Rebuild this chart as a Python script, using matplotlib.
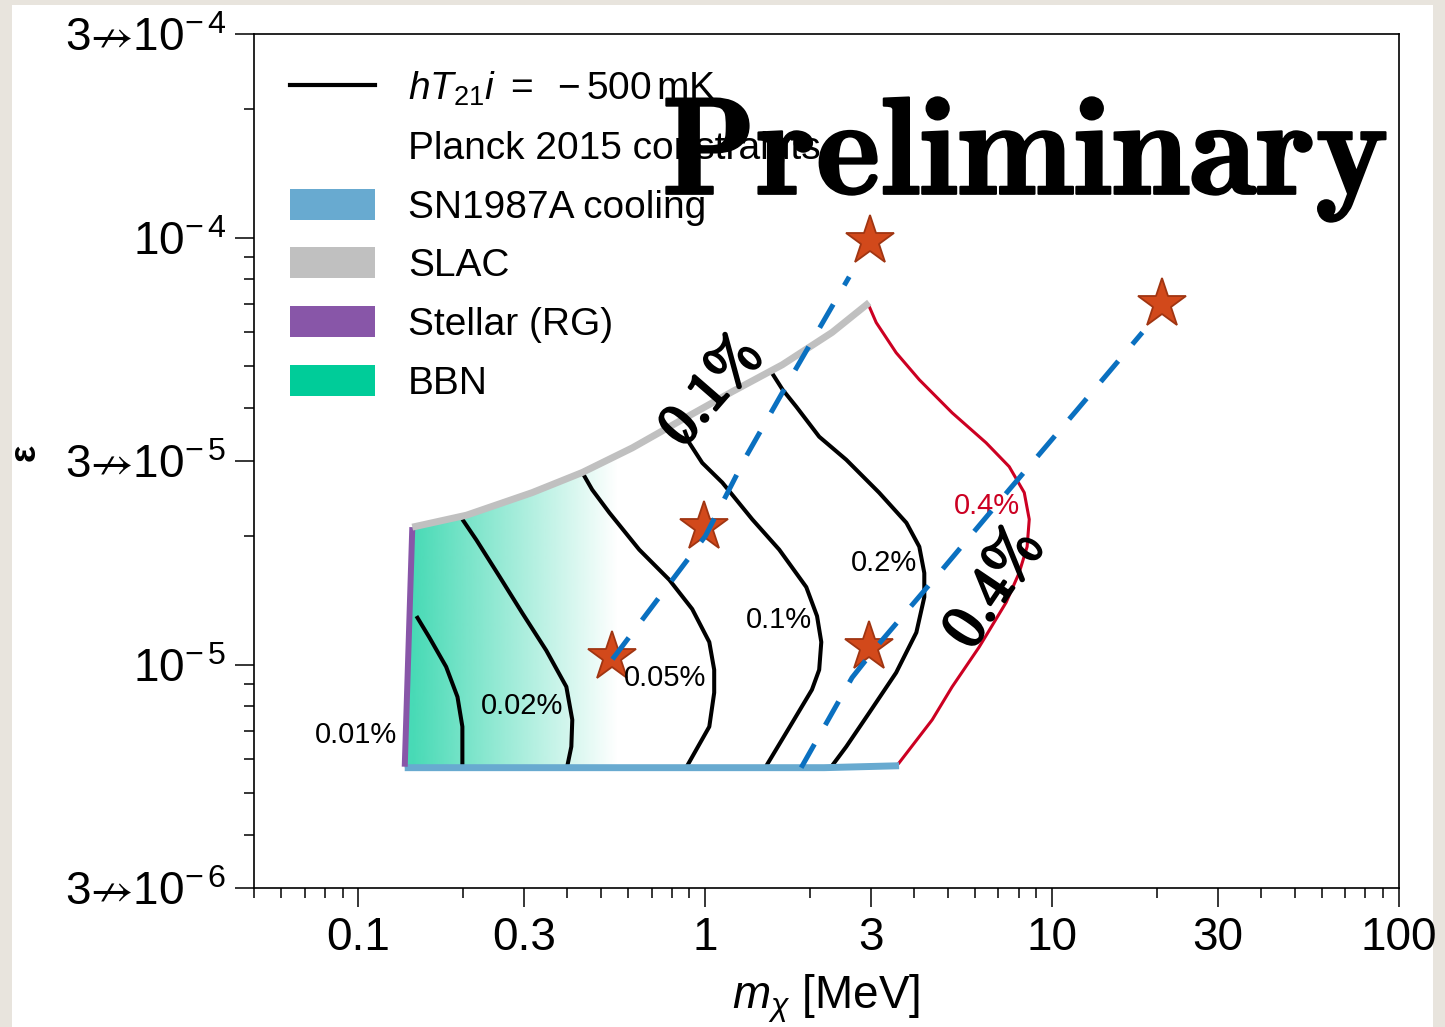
import numpy as np
import matplotlib
matplotlib.use("Agg")
import matplotlib.pyplot as plt
import matplotlib.patheffects as pe
from matplotlib.patches import Rectangle, Patch, Polygon
from matplotlib.lines import Line2D
from matplotlib.ticker import FixedLocator, FixedFormatter, NullFormatter

plt.rcParams['font.family'] = ['Liberation Sans', 'DejaVu Sans']
plt.rcParams['mathtext.fontset'] = 'custom'
plt.rcParams['mathtext.rm'] = 'Liberation Sans'
plt.rcParams['mathtext.it'] = 'Liberation Sans:italic'
plt.rcParams['mathtext.bf'] = 'Liberation Sans:bold'
plt.rcParams['mathtext.fallback'] = 'stixsans'

# ---------------- data (m_chi in MeV, epsilon) ----------------
x_limits = [0.05, 100]
y_limits = [3e-6, 3e-4]

x_major = [0.1, 0.3, 1, 3, 10, 30, 100]
x_major_labels = ['0.1', '0.3', '1', '3', '10', '30', '100']
y_major = [3e-6, 1e-5, 3e-5, 1e-4, 3e-4]
y_major_labels = ['3$\u219b$10$^{-\\,6}$', '10$^{-\\,5}$', '3$\u219b$10$^{-\\,5}$',
                  '10$^{-\\,4}$', '3$\u219b$10$^{-\\,4}$']

# SLAC boundary (top)
slac_x = [0.143, 0.205, 0.317, 0.442, 0.616, 0.858, 1.196, 1.667, 2.32, 2.97]
slac_y = [2.10e-5, 2.24e-5, 2.53e-5, 2.82e-5, 3.22e-5, 3.75e-5, 4.36e-5, 5.04e-5, 6.0e-5, 7.05e-5]

# Stellar (RG) boundary (left)
rg_x = [0.136, 0.143]
rg_y = [5.77e-6, 2.10e-5]

# SN1987A cooling boundary (bottom)
sn_x = [0.136, 2.2, 3.62]
sn_y = [5.74e-6, 5.74e-6, 5.80e-6]

# <T21> = -500 mK contours, labelled by fraction
c001_x = [0.147, 0.160, 0.179, 0.193, 0.1994, 0.1994]
c001_y = [1.30e-5, 1.16e-5, 9.89e-6, 8.41e-6, 7.16e-6, 5.80e-6]

c002_x = [0.1994, 0.2188, 0.255, 0.297, 0.348, 0.3976, 0.4136, 0.411, 0.4003]
c002_y = [2.19e-5, 1.96e-5, 1.61e-5, 1.32e-5, 1.08e-5, 8.88e-6, 7.43e-6, 6.43e-6, 5.80e-6]

c005_x = [0.442, 0.472, 0.529, 0.645, 0.788, 0.917, 1.027, 1.061, 1.061, 1.027, 0.887]
c005_y = [2.82e-5, 2.57e-5, 2.27e-5, 1.86e-5, 1.58e-5, 1.35e-5, 1.13e-5, 9.73e-6, 8.60e-6, 7.16e-6, 5.80e-6]

c01_x = [0.87, 0.899, 0.980, 1.12, 1.366, 1.634, 1.955, 2.10, 2.16, 2.13, 2.03, 1.78, 1.50]
c01_y = [3.55e-5, 3.31e-5, 2.97e-5, 2.67e-5, 2.19e-5, 1.86e-5, 1.52e-5, 1.30e-5, 1.13e-5, 9.73e-6, 8.74e-6, 7.31e-6, 5.80e-6]

c02_x = [1.55, 1.67, 1.83, 2.13, 2.55, 3.17, 3.80, 4.14, 4.28, 4.28, 4.06, 3.55, 2.97, 2.55, 2.32]
c02_y = [4.85e-5, 4.41e-5, 4.02e-5, 3.42e-5, 3.02e-5, 2.53e-5, 2.15e-5, 1.89e-5, 1.64e-5, 1.44e-5, 1.19e-5, 9.58e-6, 7.72e-6, 6.43e-6, 5.80e-6]

c04_x = [2.97, 3.11, 3.55, 4.14, 5.15, 6.45, 7.52, 8.31, 8.59, 8.47, 8.03, 7.37, 6.16, 5.15, 4.51, 3.62]
c04_y = [6.90e-5, 6.33e-5, 5.38e-5, 4.65e-5, 3.89e-5, 3.31e-5, 2.91e-5, 2.53e-5, 2.19e-5, 1.89e-5, 1.64e-5, 1.40e-5, 1.10e-5, 8.88e-6, 7.43e-6, 5.89e-6]

# dashed benchmark lines
dash1_x = [0.54, 1.0, 1.31, 1.84, 2.6]
dash1_y = [1.03e-5, 2.0e-5, 3.07e-5, 4.99e-5, 8.1e-5]
dash2_x = [1.89, 2.65, 3.11, 4.82, 7.52, 11.7, 18.2]
dash2_y = [5.74e-6, 9.33e-6, 1.10e-5, 1.67e-5, 2.57e-5, 3.92e-5, 6.0e-5]

# benchmark stars
star_x = [0.54, 0.99, 2.99, 2.97, 20.7]
star_y = [1.04e-5, 2.1e-5, 9.8e-5, 1.10e-5, 7.0e-5]

# contour labels
lab_text = ['0.01%', '0.02%', '0.05%', '0.1%', '0.2%']
lab_x = [0.0986, 0.297, 0.767, 1.63, 3.28]
lab_y = [6.85e-6, 8.0e-6, 9.33e-6, 1.27e-5, 1.73e-5]
red_lab = ('0.4%', 6.5, 2.35e-5)

# BBN fade range
bbn_fade_start = 0.143
bbn_fade_end = 0.56

# ---------------- colours ----------------
C_SN = '#68aad0'
C_SLAC = '#c0c0c0'
C_RG = '#8856a8'
C_BBN = '#00cc99'
C_RED = '#cc0022'
C_DASH = '#0a70c0'
C_STAR = '#d2491b'
C_STAR_EDGE = '#a03512'

# ---------------- figure ----------------
fig = plt.figure(figsize=(14.45, 10.27), dpi=100)
fig.patch.set_facecolor('#e8e4dd')
fig.add_artist(Rectangle((12 / 1445, 0), (1433 - 12) / 1445, (1022) / 1027,
                         transform=fig.transFigure, facecolor='white',
                         edgecolor='none', zorder=-10))

ax = fig.add_axes([254 / 1445, 1 - 888 / 1027, (1399 - 254) / 1445, (888 - 34) / 1027])
ax.set_xscale('log')
ax.set_yscale('log')
ax.set_xlim(*x_limits)
ax.set_ylim(*y_limits)
ax.set_autoscale_on(False)

# BBN gradient, clipped to the allowed region
lx0, lx1 = np.log10(x_limits)
xs = np.linspace(0, 1, 600)
mass = 10 ** (lx0 + xs * (lx1 - lx0))
frac = (np.log10(bbn_fade_end) - np.log10(mass)) / (np.log10(bbn_fade_end) - np.log10(bbn_fade_start))
alpha = np.clip(frac, 0, 1) * 0.72
rgb = matplotlib.colors.to_rgb(C_BBN)
img = np.zeros((1, xs.size, 4))
img[0, :, 0], img[0, :, 1], img[0, :, 2] = rgb
img[0, :, 3] = alpha
im = ax.imshow(img, extent=[0, 1, 0, 1], transform=ax.transAxes, aspect='auto',
               interpolation='bilinear', zorder=1)
region = list(zip(rg_x, rg_y)) + list(zip(slac_x, slac_y)) + \
    [(slac_x[-1], sn_y[0])] + list(zip(sn_x[::-1], sn_y[::-1]))[1:]
clip = Polygon(region, closed=True, transform=ax.transData)
im.set_clip_path(clip)

# contours
for cx, cy in [(c001_x, c001_y), (c002_x, c002_y), (c005_x, c005_y),
               (c01_x, c01_y), (c02_x, c02_y)]:
    ax.plot(cx, cy, color='black', lw=2.9, solid_joinstyle='round', solid_capstyle='butt', zorder=3)
ax.plot(c04_x, c04_y, color=C_RED, lw=2.2, solid_joinstyle='round', zorder=3)

# constraint boundaries
ax.plot(sn_x, sn_y, color=C_SN, lw=5, solid_capstyle='butt', zorder=4)
ax.plot(rg_x, rg_y, color=C_RG, lw=4.3, solid_capstyle='butt', zorder=4)
ax.plot(slac_x, slac_y, color=C_SLAC, lw=5, solid_capstyle='butt', zorder=4)

# stars
ax.plot(star_x, star_y, linestyle='none', marker='*', markersize=37,
        markerfacecolor=C_STAR, markeredgecolor=C_STAR_EDGE, markeredgewidth=1.3, zorder=5)

# contour labels
for t, x, y in zip(lab_text, lab_x, lab_y):
    ax.text(x, y, t, fontsize=21, ha='center', va='center', zorder=6)
ax.text(red_lab[1], red_lab[2], red_lab[0], fontsize=21, color=C_RED, ha='center', va='center', zorder=6)

# dashed lines
for dx, dy in [(dash1_x, dash1_y), (dash2_x, dash2_y)]:
    ax.plot(dx, dy, color=C_DASH, lw=3.6, dashes=(5.4, 4.4), zorder=7)

# bold rotated labels
heavy = [pe.withStroke(linewidth=2.2, foreground='black')]
ax.text(1.04, 4.34e-5, r'$\mathbf{0.1\%}$', rotation=49, fontsize=42, ha='center', va='center',
        rotation_mode='anchor', math_fontfamily='cm', zorder=8, path_effects=heavy)
ax.text(6.8, 1.5e-5, r'$\mathbf{0.4\%}$', rotation=56, fontsize=44, ha='center', va='center',
        rotation_mode='anchor', math_fontfamily='cm', zorder=8, path_effects=heavy)

# Preliminary watermark
ax.text(0.356, 0.812, r'$\mathbf{Preliminary}$', transform=ax.transAxes, fontsize=100,
        ha='left', va='baseline', math_fontfamily='cm', zorder=9,
        path_effects=[pe.withStroke(linewidth=1.5, foreground='black')])

# legend
handles = [Line2D([], [], color='black', lw=3),
           Patch(facecolor='none', edgecolor='none'),
           Patch(facecolor=C_SN, edgecolor='none'),
           Patch(facecolor=C_SLAC, edgecolor='none'),
           Patch(facecolor=C_RG, edgecolor='none'),
           Patch(facecolor=C_BBN, edgecolor='none')]
labels = [r'$hT_{21}i\ =\ -500\,$mK', 'Planck 2015 constraints', 'SN1987A cooling',
          'SLAC', 'Stellar (RG)', 'BBN']
leg = ax.legend(handles, labels, loc='upper left', bbox_to_anchor=(0.0314, 0.958),
                frameon=False, fontsize=28, borderpad=0, borderaxespad=0,
                handlelength=2.19, handleheight=0.85, handletextpad=0.85, labelspacing=0.56)
leg.set_zorder(2)

# axes styling
for s in ax.spines.values():
    s.set_linewidth(1.2)
ax.tick_params(which='both', direction='out', top=False, right=False, width=1.1)
ax.tick_params(which='major', length=14, pad=6, labelsize=33)
ax.tick_params(which='minor', length=7)

ax.xaxis.set_major_locator(FixedLocator(x_major))
ax.xaxis.set_major_formatter(FixedFormatter(x_major_labels))
xminor = [m * 10.0 ** e for e in range(-2, 3) for m in range(1, 10)]
xminor = [v for v in xminor if x_limits[0] <= v <= x_limits[1] and
          not any(abs(v - t) / t < 1e-6 for t in x_major)]
ax.xaxis.set_minor_locator(FixedLocator(xminor))
ax.xaxis.set_minor_formatter(NullFormatter())

ax.yaxis.set_major_locator(FixedLocator(y_major))
ax.yaxis.set_major_formatter(FixedFormatter(y_major_labels))
yminor = [m * 10.0 ** e for e in range(-6, -3) for m in range(1, 10)]
yminor = [v for v in yminor if y_limits[0] <= v <= y_limits[1] and
          not any(abs(v - t) / t < 1e-6 for t in y_major)]
ax.yaxis.set_minor_locator(FixedLocator(yminor))
ax.yaxis.set_minor_formatter(NullFormatter())

ax.set_xlabel(r'$m_\chi$ [MeV]', fontsize=33, labelpad=9)
fig.text(25 / 1445, 1 - 452 / 1027, '\u03b5', rotation=90, fontsize=26, fontweight='bold',
         ha='center', va='center')

fig.savefig('out.png', dpi=100, facecolor=fig.get_facecolor())
